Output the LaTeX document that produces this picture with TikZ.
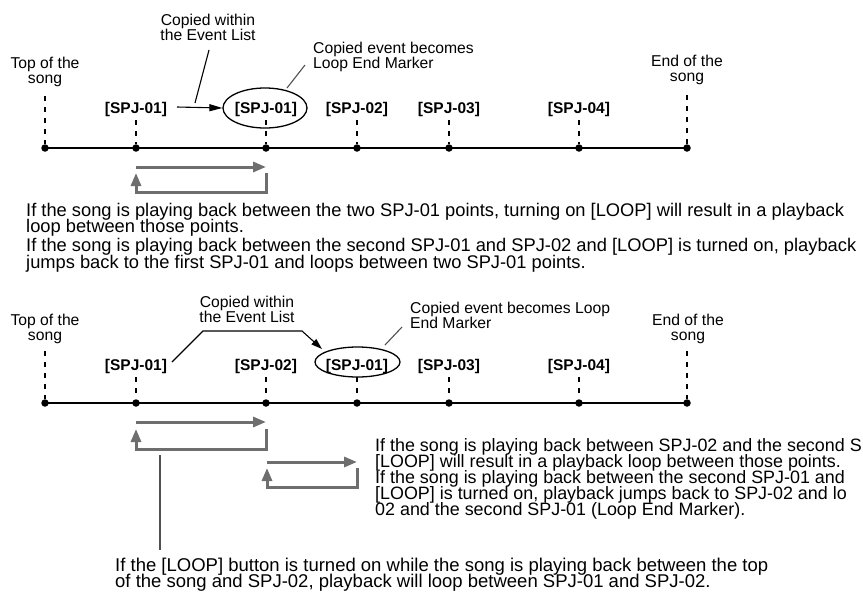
\documentclass[tikz,border=0pt]{standalone}
\usepackage{fontspec}
\setmainfont{Liberation Sans}
\usetikzlibrary{arrows.meta,shapes.geometric}
\definecolor{loopgray}{HTML}{6E6E6E}
\definecolor{leadgray}{HTML}{505050}
\newcommand\ctext[1]{\vtop{\lineskiplimit=-100pt\halign{\hfil##\hfil\cr#1\crcr}}}
\newcommand\ltext[1]{\vtop{\lineskiplimit=-100pt\halign{##\hfil\cr#1\crcr}}}
\begin{document}
\begin{tikzpicture}[x=1pt,y=-1pt,
  lbl/.style={font=\fontsize{15.7}{15}\selectfont, inner sep=0pt, anchor=base},
  lblw/.style={font=\fontsize{15.7}{15}\selectfont, inner sep=0pt, anchor=base west},
  spj/.style={font=\bfseries\fontsize{15.5}{15}\selectfont, inner sep=0pt, anchor=base},
  body/.style={font=\fontsize{18.3}{16.5}\selectfont, inner sep=0pt, anchor=base west},
  tick/.style={line width=1.3pt, dash pattern=on 5pt off 6pt},
  timeline/.style={line width=2.6pt},
  dot/.style={circle, fill, inner sep=0pt, minimum size=7.5pt},
  loopline/.style={loopgray, line width=3pt},
  looptip/.style={-{Triangle[length=13pt,width=10pt]}},
  leader/.style={line width=1.1pt},
  ell/.style={draw, ellipse, line width=1.3pt, inner sep=0pt}
]
\useasboundingbox (0,0) rectangle (863,592);

% ================= top diagram =================
\draw[timeline] (45,148) coordinate (a0c) -- (687,148) coordinate (a6c);
\node[dot] (a0) at (45,148) {};
\node[dot] (a1) at (136,148) {};
\node[dot] (a2) at (266,148) {};
\node[dot] (a3) at (357,148) {};
\node[dot] (a4) at (449,148) {};
\node[dot] (a5) at (579,148) {};
\node[dot] (a6) at (687,148) {};

\node[lbl] (atop) at (45,68) {\ctext{Top of the\cr song}};
\node[lbl] (aend) at (687,66) {\ctext{End of the\cr song}};
\node[lbl] (acw) at (208,25) {\ctext{Copied within\cr the Event List}};
\node[lblw] (ace) at (313,53) {\ltext{Copied event becomes\cr Loop End Marker}};

\node[spj] (la1) at (136,113) {[SPJ-01]};
\node[spj] (la2) at (266,113) {[SPJ-01]};
\node[spj] (la3) at (357,113) {[SPJ-02]};
\node[spj] (la4) at (449,113) {[SPJ-03]};
\node[spj] (la5) at (579,113) {[SPJ-04]};
\node[ell, minimum width=84pt, minimum height=40pt] (e1) at (265,108) {};

\coordinate (atopd) at (45,96);
\coordinate (aendd) at (687,95);
\draw[tick] (atopd) -- (a0);
\draw[tick] (aendd) -- (a6);
\foreach \i in {1,...,5}{\draw[tick] ([yshift=-4pt]la\i.south) -- (a\i);}

\coordinate (acwa) at (209,50);
\coordinate (acwb) at (195,103);
\draw[leader] (acwa) -- (acwb);
\coordinate (aars) at (177,107);
\draw[leader, -{Triangle[length=13pt,width=7pt]}] (aars) -- (e1.west);
\coordinate (acea) at (305,65);
\coordinate (aceb) at (287,88);
\draw[leader, leadgray] (acea) -- (aceb);

\coordinate (r1s) at (136,167);
\coordinate (r1e) at (266,167);
\draw[loopline, looptip] (r1s) -- (r1e);
\coordinate (r1a) at (266,173);
\coordinate (r1b) at (266,192);
\coordinate (r1c) at (136,192);
\coordinate (r1d) at (136,173);
\draw[loopline, looptip] (r1a) -- (r1b) -- (r1c) -- (r1d);

\node[body] (txa) at (26,216) {\ltext{If the song is playing back between the two SPJ-01 points, turning on [LOOP] will result in a playback\cr
loop between those points.\cr\noalign{\vskip2.5pt}
If the song is playing back between the second SPJ-01 and SPJ-02 and [LOOP] is turned on, playback\cr
jumps back to the first SPJ-01 and loops between two SPJ-01 points.}};

% ================= bottom diagram =================
\draw[timeline] (45,403) coordinate (b0c) -- (687,403) coordinate (b6c);
\node[dot] (b0) at (45,403) {};
\node[dot] (b1) at (136,403) {};
\node[dot] (b2) at (266,403) {};
\node[dot] (b3) at (357,403) {};
\node[dot] (b4) at (449,403) {};
\node[dot] (b5) at (579,403) {};
\node[dot] (b6) at (687,403) {};

\node[lbl] (btop) at (45,325) {\ctext{Top of the\cr song}};
\node[lbl] (bend) at (688,325) {\ctext{End of the\cr song}};
\node[lbl] (bcw) at (247,307) {\ctext{Copied within\cr the Event List}};
\node[lblw] (bce) at (410,313) {\ltext{Copied event becomes Loop\cr End Marker}};

\node[spj] (lb1) at (136,370) {[SPJ-01]};
\node[spj] (lb2) at (266,370) {[SPJ-02]};
\node[spj] (lb3) at (357,370) {[SPJ-01]};
\node[spj] (lb4) at (449,370) {[SPJ-03]};
\node[spj] (lb5) at (579,370) {[SPJ-04]};
\node[ell, minimum width=85pt, minimum height=30pt] (e2) at (357.5,362) {};

\coordinate (btopd) at (45,351);
\coordinate (bendd) at (687,351);
\draw[tick] (btopd) -- (b0);
\draw[tick] (bendd) -- (b6);
\foreach \i in {1,...,5}{\draw[tick] ([yshift=-4pt]lb\i.south) -- (b\i);}

\coordinate (bl1) at (172,362);
\coordinate (bl2) at (203,331);
\coordinate (bl3) at (302,331);
\coordinate (bl4) at (322,349);
\draw[leader, -{Triangle[length=11pt,width=7pt]}] (bl1) -- (bl2) -- (bl3) -- (bl4);
\coordinate (bcea) at (402,327);
\coordinate (bceb) at (385,345);
\draw[leader, leadgray] (bcea) -- (bceb);

\coordinate (r2s) at (136,422);
\coordinate (r2e) at (266,422);
\draw[loopline, looptip] (r2s) -- (r2e);
\coordinate (r2a) at (266,429);
\coordinate (r2b) at (266,449);
\coordinate (r2c) at (136,449);
\coordinate (r2d) at (136,429);
\draw[loopline, looptip] (r2a) -- (r2b) -- (r2c) -- (r2d);

\coordinate (r3s) at (267,462);
\coordinate (r3e) at (357,462);
\draw[loopline, looptip] (r3s) -- (r3e);
\coordinate (r3a) at (357,468);
\coordinate (r3b) at (357,487);
\coordinate (r3c) at (267,487);
\coordinate (r3d) at (267,468);
\draw[loopline, looptip] (r3a) -- (r3b) -- (r3c) -- (r3d);

\coordinate (vla) at (160,455);
\coordinate (vlb) at (160,550);
\draw[line width=1.6pt, leadgray] (vla) -- (vlb);

\node[body, font=\fontsize{17.9}{16}\selectfont] (txb) at (375,451) {\ltext{If the song is playing back between SPJ-02 and the second S\cr
[LOOP] will result in a playback loop between those points.\cr
If the song is playing back between the second SPJ-01 and\cr
[LOOP] is turned on, playback jumps back to SPJ-02 and lo\cr
02 and the second SPJ-01 (Loop End Marker).}};

\node[body, font=\fontsize{18.5}{16.5}\selectfont] (txc) at (115,571) {\ltext{If the [LOOP] button is turned on while the song is playing back between the top\cr
of the song and SPJ-02, playback will loop between SPJ-01 and SPJ-02.}};
\end{tikzpicture}
\end{document}
